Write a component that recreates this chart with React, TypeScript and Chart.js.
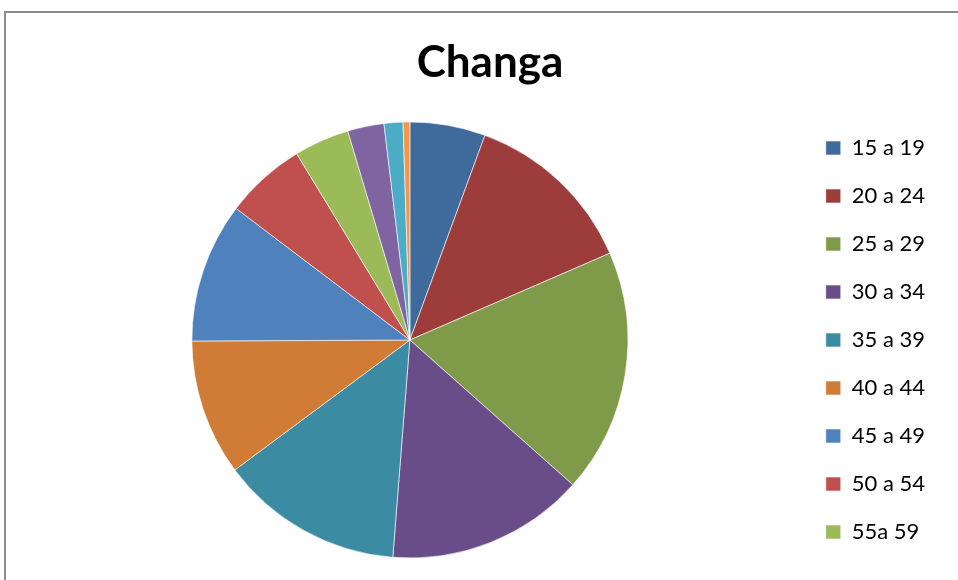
import React, { useEffect, useRef } from "react";
import { Chart, registerables } from "chart.js";

Chart.register(...registerables);

const chartTitle = "Changa";
const ageGroups = [
  "15 a 19",
  "20 a 24",
  "25 a 29",
  "30 a 34",
  "35 a 39",
  "40 a 44",
  "45 a 49",
  "50 a 54",
  "55a 59",
  "60 a 64",
  "65 a 69",
  "70 a 74",
];
const shares = [5.6, 12.9, 18.1, 14.7, 13.6, 10.1, 10.4, 6.0, 4.1, 2.7, 1.4, 0.5];
const sliceColors = [
  "#3F6A9C",
  "#9C3D3B",
  "#7F9A48",
  "#684D88",
  "#3B8CA3",
  "#D07B36",
  "#4F81BD",
  "#C0504D",
  "#9BBB59",
  "#8064A2",
  "#4BACC6",
  "#F79646",
];
const visibleLegendCount = 9;

const titlePlugin = {
  id: "excelTitle",
  afterDraw(chart: any) {
    const ctx = chart.ctx;
    ctx.save();
    ctx.font = "bold 44px Lato";
    ctx.fillStyle = "#000000";
    ctx.textAlign = "center";
    ctx.textBaseline = "alphabetic";
    ctx.fillText(chartTitle, 490, 77);
    ctx.restore();
  },
};

export default function App() {
  const canvasRef = useRef<HTMLCanvasElement | null>(null);

  useEffect(() => {
    if (!canvasRef.current) return;
    const chart = new Chart(canvasRef.current, {
      type: "pie",
      data: {
        labels: ageGroups,
        datasets: [
          {
            data: shares,
            backgroundColor: sliceColors,
            borderColor: "rgba(255,255,255,0.6)",
            borderWidth: 1,
          },
        ],
      },
      options: {
        responsive: false,
        animation: false,
        radius: 218,
        layout: { padding: { left: 20, right: 23, top: 100, bottom: 0 } },
        plugins: {
          title: { display: false },
          legend: {
            position: "right",
            fullSize: false,
            labels: {
              color: "#000000",
              font: { family: "Lato", size: 22 },
              boxWidth: 15,
              boxHeight: 14,
              padding: 26,
              filter: (item: any) => item.index < visibleLegendCount,
            },
          },
          tooltip: { enabled: false },
        },
      },
      plugins: [titlePlugin],
    } as any);
    return () => chart.destroy();
  }, []);

  return (
    <div
      style={{
        position: "fixed",
        left: 0,
        top: 0,
        width: 958,
        height: 580,
        overflow: "hidden",
        background: "#ffffff",
      }}
    >
      <div
        style={{
          position: "absolute",
          left: 4,
          top: 11,
          width: 1000,
          height: 700,
          borderLeft: "2px solid #8c8c8c",
          borderTop: "2px solid #8c8c8c",
          boxSizing: "border-box",
        }}
      />
      <canvas
        ref={canvasRef}
        width={958}
        height={580}
        style={{ position: "absolute", left: 0, top: 0 }}
      />
    </div>
  );
}
